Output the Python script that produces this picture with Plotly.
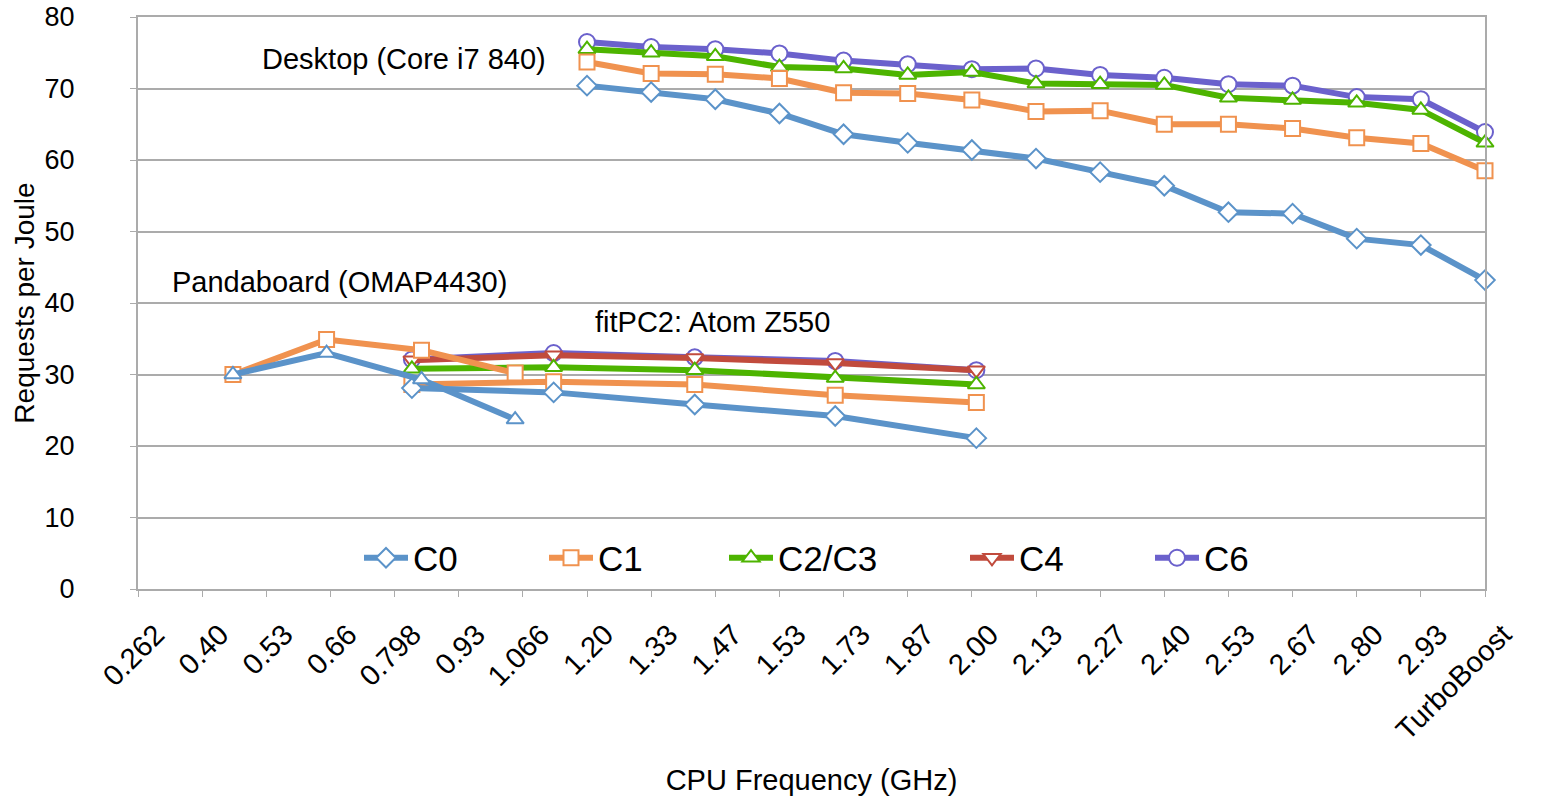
import plotly.graph_objects as go

# ---------------- data ----------------
categories = ["0.262", "0.40", "0.53", "0.66", "0.798", "0.93", "1.066", "1.20", "1.33",
              "1.47", "1.53", "1.73", "1.87", "2.00", "2.13", "2.27", "2.40", "2.53",
              "2.67", "2.80", "2.93", "TurboBoost"]

desktop_freqs = ["1.20", "1.33", "1.47", "1.53", "1.73", "1.87", "2.00", "2.13", "2.27",
                 "2.40", "2.53", "2.67", "2.80", "2.93", "TurboBoost"]
desktop_c0 = [70.4, 69.5, 68.5, 66.5, 63.6, 62.4, 61.4, 60.2, 58.3, 56.4, 52.7, 52.5, 49.0, 48.1, 43.2]
desktop_c1 = [73.7, 72.1, 72.0, 71.4, 69.4, 69.3, 68.4, 66.8, 66.9, 65.0, 65.0, 64.4, 63.1, 62.3, 58.5]
desktop_c23 = [75.5, 75.0, 74.5, 73.0, 72.8, 71.9, 72.3, 70.7, 70.6, 70.5, 68.7, 68.4, 68.0, 67.0, 62.4]
desktop_c6 = [76.5, 75.8, 75.5, 74.9, 73.9, 73.4, 72.7, 72.8, 71.9, 71.5, 70.6, 70.4, 68.8, 68.5, 63.9]

# Pandaboard (OMAP4430): positions along the category axis (axis units)
panda_pos = [1.48, 2.94, 4.42, 5.88]
panda_c0 = [30.0, 33.0, 29.3, 23.7]
panda_c1 = [30.0, 34.9, 33.4, 30.2]

# fitPC2: Atom Z550: positions along the category axis (axis units)
fitpc_pos = [4.27, 6.48, 8.68, 10.87, 13.07]
fitpc_c0 = [28.1, 27.5, 25.8, 24.2, 21.1]
fitpc_c1 = [28.6, 29.0, 28.6, 27.1, 26.1]
fitpc_c23 = [30.8, 31.0, 30.6, 29.5, 28.6]
fitpc_c4 = [32.0, 32.7, 32.3, 31.6, 30.6]
fitpc_c6 = [32.1, 33.0, 32.4, 31.9, 30.6]

series_names = ["C0", "C1", "C2/C3", "C4", "C6"]
y_ticks = [0, 10, 20, 30, 40, 50, 60, 70, 80]

# ---------------- style ----------------
FONT = "Liberation Sans, Arial, Helvetica, sans-serif"
COL = {"C0": "#5B93C9", "C1": "#F0924F", "C2/C3": "#4DB400", "C4": "#C14B3D", "C6": "#6B61CC"}
SYM = {"C0": "diamond", "C1": "square", "C2/C3": "triangle-up", "C4": "triangle-down", "C6": "circle"}
MSIZE = {"C0": 15, "C1": 15, "C2/C3": 15, "C4": 15, "C6": 16}
LEG = {"C0": "legend", "C1": "legend2", "C2/C3": "legend3", "C4": "legend4", "C6": "legend5"}

desktop_x = [categories.index(f) for f in desktop_freqs]

fig = go.Figure()


def add(name, x, y, show, symbol=None):
    fig.add_trace(go.Scatter(
        x=x, y=y, mode="lines+markers", name=name,
        line=dict(color=COL[name], width=6),
        marker=dict(symbol=symbol or SYM[name], size=MSIZE[name], color="white",
                    line=dict(color=COL[name], width=2)),
        showlegend=show, legend=LEG[name], cliponaxis=False,
    ))


# drawing order: C6 at the bottom, C0 on top
add("C6", desktop_x, desktop_c6, True)
add("C6", fitpc_pos, fitpc_c6, False)
add("C4", fitpc_pos, fitpc_c4, True)
add("C2/C3", desktop_x, desktop_c23, True)
add("C2/C3", fitpc_pos, fitpc_c23, False)
add("C1", desktop_x, desktop_c1, True)
add("C1", fitpc_pos, fitpc_c1, False)
add("C1", panda_pos, panda_c1, False)
add("C0", desktop_x, desktop_c0, True)
add("C0", fitpc_pos, fitpc_c0, False)
add("C0", panda_pos, panda_c0, False, symbol="triangle-up")

# annotations (device labels)
ann_font = dict(family=FONT, size=29, color="black")
fig.add_annotation(x=1.90, y=74.1, xref="x", yref="y", text="Desktop (Core i7 840)",
                   showarrow=False, xanchor="left", yanchor="middle", font=ann_font)
fig.add_annotation(x=0.50, y=42.9, xref="x", yref="y", text="Pandaboard (OMAP4430)",
                   showarrow=False, xanchor="left", yanchor="middle", font=ann_font)
fig.add_annotation(x=7.09, y=37.3, xref="x", yref="y", text="fitPC2: Atom Z550",
                   showarrow=False, xanchor="left", yanchor="middle", font=ann_font)

# legends positioned individually (paper coords)
plot_l, plot_r = 138, 1485
leg_starts = {"C0": 364, "C1": 549, "C2/C3": 729, "C4": 970, "C6": 1155}
legends = {}
for name in series_names:
    legends[LEG[name]] = dict(
        x=(leg_starts[name] - 5 - plot_l) / (plot_r - plot_l), y=(589 - 558) / 572,
        xanchor="left", yanchor="middle", orientation="h",
        bgcolor="rgba(0,0,0,0)", borderwidth=0, itemwidth=44,
        font=dict(family=FONT, size=35, color="black"),
    )

GRID = "#ABABAB"
fig.update_layout(
    width=1552, height=796,
    margin=dict(l=138, r=67, t=17, b=207, autoexpand=False),
    paper_bgcolor="white", plot_bgcolor="white",
    font=dict(family=FONT, size=27, color="black"),
    xaxis=dict(
        range=[0, 21], tickmode="array", tickvals=list(range(len(categories))),
        ticktext=categories, tickangle=-45, ticks="outside", ticklen=6, tickwidth=1,
        tickcolor=GRID, showline=True, linecolor=GRID, linewidth=2, showgrid=False,
        zeroline=False, mirror=True, ticklabelstandoff=9, ticklabelshift=18,
        tickfont=dict(family=FONT, size=29, color="black"),
        title=dict(text="CPU Frequency (GHz)", font=dict(family=FONT, size=29, color="black"),
                   standoff=27),
        automargin=False,
    ),
    yaxis=dict(
        range=[0, 80], tickvals=y_ticks, ticks="outside", ticklen=6, tickwidth=1,
        tickcolor=GRID, showline=True, linecolor=GRID, linewidth=2, mirror=True,
        showgrid=True, gridcolor=GRID, gridwidth=2, zeroline=False,
        ticklabelstandoff=50,
        tickfont=dict(family=FONT, size=27, color="black"),
        title=dict(text="Requests per Joule", font=dict(family=FONT, size=28, color="black"),
                   standoff=2),
        automargin=False,
    ),
    **legends,
)

fig.write_html("out.html")
